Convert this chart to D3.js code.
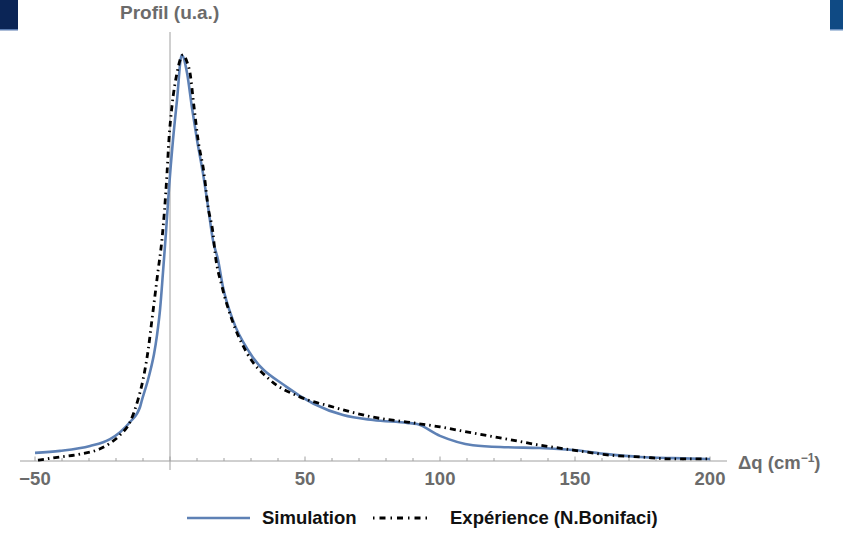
<!DOCTYPE html>
<html>
<head>
<meta charset="utf-8">
<script src="https://cdn.jsdelivr.net/npm/d3@7"></script>
<style>
body{margin:0;background:#fff;}
text{font-family:"Liberation Sans",Arial,sans-serif;font-weight:bold;}
</style>
</head>
<body>
<svg width="843" height="533"></svg>
<script>
// Simulation (blue) : delta q (cm-1) / profil (u.a.)
var simQ   = [-50,-40.7,-29.6,-22.2,-18.5,-14.8,-11.1,-10.4,-9.26,-8.15,-7.04,-5.93,-4.81,-3.70,-2.59,-1.48,-0.37,1.11,2.59,4.33,6.3,8.1,10.0,12.2,14.1,15.9,17.8,19.6,23.3,29.6,43.3,64.1,75.2,87.8,91.5,100,112.2,124.8,137,149.3,161.9,174.1,186.3,200];
var simVal = [0.020,0.025,0.037,0.054,0.071,0.096,0.133,0.150,0.175,0.200,0.229,0.263,0.310,0.372,0.465,0.564,0.672,0.791,0.889,1.0,0.956,0.872,0.791,0.709,0.626,0.544,0.495,0.429,0.347,0.266,0.182,0.113,0.101,0.094,0.091,0.062,0.039,0.034,0.032,0.027,0.017,0.010,0.007,0.005];

// Experience (black dash-dot)
var expQ   = [-48.9,-40.7,-33.3,-25.9,-22.2,-18.5,-14.8,-11.9,-10.0,-8.1,-6.7,-4.4,-3.0,-1.1,-0.4,0.7,2.6,4.8,6.3,7.4,8.9,10.4,12.6,14.1,15.9,16.7,19.3,23.0,28.5,37.0,48.1,60.4,64.1,75.2,87.8,100,112.2,124.8,137,149.3,161.9,174.1,186.3,200];
var expVal = [0.002,0.010,0.017,0.030,0.044,0.064,0.096,0.150,0.200,0.273,0.347,0.470,0.544,0.709,0.791,0.872,0.956,1.0,0.983,0.956,0.872,0.791,0.709,0.626,0.562,0.512,0.429,0.347,0.266,0.200,0.158,0.133,0.126,0.108,0.096,0.084,0.069,0.054,0.039,0.027,0.015,0.010,0.005,0.005];

var majorTicks = [-50,50,100,150,200];
var tickLabels = ["\u221250","50","100","150","200"];
var legendNames = ["Simulation","Exp\u00e9rience (N.Bonifaci)"];

var svg = d3.select("svg");

// bandeaux du modele de diapo
svg.append("rect").attr("x",0).attr("y",0).attr("width",18).attr("height",30).attr("fill","#0b2556");
svg.append("rect").attr("x",0).attr("y",29).attr("width",18).attr("height",1.5).attr("fill","#5a7bb0");
svg.append("rect").attr("x",830).attr("y",0).attr("width",13).attr("height",30).attr("fill","#0f4a84");
svg.append("rect").attr("x",830).attr("y",29).attr("width",13).attr("height",1.5).attr("fill","#6a90c0");

var x = d3.scaleLinear().domain([-50,200]).range([35,710]);
var y = d3.scaleLinear().domain([0,1]).range([461,55]);

// axe horizontal
svg.append("line")
	.attr("x1",20).attr("x2",727).attr("y1",y(0)).attr("y2",y(0))
	.attr("stroke","#a0a0a0").attr("stroke-width",1);

svg.selectAll().data(d3.range(-50,201,10))
	.enter().append("line")
	.attr("x1",function(d){ return x(d) }).attr("x2",function(d){ return x(d) })
	.attr("y1",y(0)).attr("y2",function(d){ return d%50==0 ? y(0)-4.5 : y(0)-3 })
	.attr("stroke","#a0a0a0").attr("stroke-width",1);

// axe vertical
svg.append("line")
	.attr("x1",x(0)).attr("x2",x(0)).attr("y1",32).attr("y2",470)
	.attr("stroke","#a0a0a0").attr("stroke-width",1);

svg.selectAll().data(majorTicks)
	.enter().append("text")
	.attr("x",function(d){ return x(d) })
	.attr("y",485)
	.attr("text-anchor","middle")
	.attr("font-size",18.5)
	.attr("fill","#6b6b6b")
	.text(function(d,i){ return tickLabels[i] });

svg.append("text")
	.attr("x",120).attr("y",19)
	.attr("font-size",19)
	.attr("fill","#6b6b6b")
	.text("Profil (u.a.)");

var xl = svg.append("text")
	.attr("x",738).attr("y",469)
	.attr("font-size",18.5)
	.attr("fill","#6b6b6b");
xl.append("tspan").text("\u0394q (cm");
xl.append("tspan").attr("dy",-7).attr("font-size",12).text("\u22121");
xl.append("tspan").attr("dy",7).text(")");

var line = d3.line()
	.x(function(d){ return x(d[0]) })
	.y(function(d){ return y(d[1]) })
	.curve(d3.curveMonotoneX);

var sim = simQ.map(function(q,i){ return [q,simVal[i]] });
var exp = expQ.map(function(q,i){ return [q,expVal[i]] });

svg.append("path")
	.attr("d",line(sim))
	.attr("fill","none")
	.attr("stroke","#5e81b5")
	.attr("stroke-width",2.6);

svg.append("path")
	.attr("d",line(exp))
	.attr("fill","none")
	.attr("stroke","#000")
	.attr("stroke-width",2.8)
	.attr("stroke-dasharray","6,4,1.5,4");

// legende
svg.append("line")
	.attr("x1",187).attr("x2",250).attr("y1",518).attr("y2",518)
	.attr("stroke","#5e81b5").attr("stroke-width",2.6);
svg.append("text").attr("x",262).attr("y",524).attr("font-size",18.5).attr("fill","#111").text(legendNames[0]);

svg.append("line")
	.attr("x1",373).attr("x2",432).attr("y1",518).attr("y2",518)
	.attr("stroke","#000").attr("stroke-width",2.8)
	.attr("stroke-dasharray","1.5,5,6,5");
svg.append("text").attr("x",450).attr("y",524).attr("font-size",18.5).attr("fill","#111").text(legendNames[1]);
</script>
</body>
</html>
